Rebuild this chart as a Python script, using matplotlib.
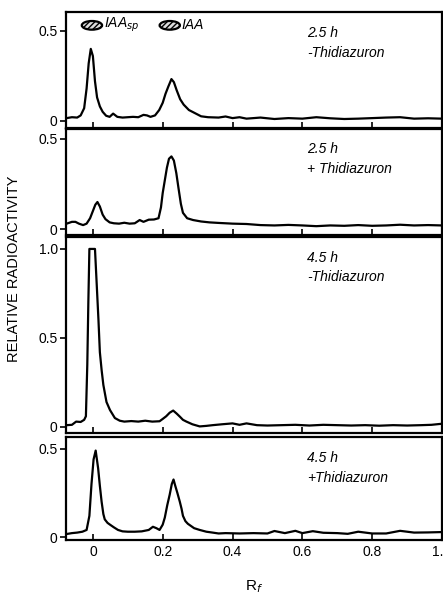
import matplotlib
matplotlib.use("Agg")
import matplotlib.pyplot as plt
from matplotlib.patches import Ellipse

# traces: (Rf, relative radioactivity)
trace_25_minus = [(-0.075, 0.015), (-0.06, 0.02), (-0.045, 0.018), (-0.035, 0.03), (-0.025, 0.07),
                  (-0.018, 0.18), (-0.012, 0.32), (-0.006, 0.40), (0.0, 0.36), (0.006, 0.22),
                  (0.012, 0.13), (0.02, 0.08), (0.028, 0.05), (0.038, 0.028), (0.048, 0.022),
                  (0.058, 0.04), (0.07, 0.022), (0.085, 0.018), (0.10, 0.02), (0.115, 0.022),
                  (0.13, 0.02), (0.145, 0.033), (0.155, 0.03), (0.165, 0.022), (0.178, 0.03),
                  (0.19, 0.06), (0.2, 0.1), (0.208, 0.15), (0.216, 0.19), (0.225, 0.232),
                  (0.232, 0.215), (0.24, 0.17), (0.25, 0.12), (0.26, 0.09), (0.275, 0.06),
                  (0.29, 0.045), (0.31, 0.025), (0.33, 0.02), (0.36, 0.018), (0.38, 0.024),
                  (0.4, 0.015), (0.42, 0.02), (0.44, 0.012), (0.48, 0.018), (0.52, 0.01),
                  (0.56, 0.015), (0.6, 0.012), (0.64, 0.02), (0.68, 0.014), (0.72, 0.01),
                  (0.76, 0.012), (0.8, 0.015), (0.84, 0.018), (0.88, 0.02), (0.92, 0.012),
                  (0.96, 0.014), (1.0, 0.012)]

trace_25_plus = [(-0.075, 0.03), (-0.06, 0.04), (-0.05, 0.04), (-0.04, 0.03), (-0.028, 0.022),
                 (-0.018, 0.03), (-0.008, 0.06), (0.0, 0.1), (0.007, 0.135), (0.013, 0.15),
                 (0.02, 0.125), (0.028, 0.08), (0.036, 0.055), (0.048, 0.037), (0.06, 0.032),
                 (0.075, 0.03), (0.09, 0.035), (0.105, 0.03), (0.12, 0.032), (0.134, 0.05),
                 (0.145, 0.04), (0.16, 0.052), (0.175, 0.053), (0.188, 0.06), (0.195, 0.12),
                 (0.2, 0.2), (0.206, 0.27), (0.212, 0.34), (0.218, 0.39), (0.225, 0.403),
                 (0.232, 0.38), (0.239, 0.31), (0.245, 0.23), (0.252, 0.14), (0.258, 0.09),
                 (0.27, 0.06), (0.287, 0.05), (0.31, 0.042), (0.334, 0.037), (0.36, 0.034),
                 (0.4, 0.03), (0.44, 0.028), (0.48, 0.022), (0.52, 0.02), (0.56, 0.023),
                 (0.6, 0.02), (0.64, 0.016), (0.68, 0.02), (0.72, 0.018), (0.76, 0.022),
                 (0.8, 0.018), (0.84, 0.02), (0.88, 0.024), (0.92, 0.02), (0.96, 0.022), (1.0, 0.02)]

trace_45_minus = [(-0.075, 0.01), (-0.06, 0.012), (-0.048, 0.03), (-0.035, 0.028), (-0.025, 0.04),
                  (-0.02, 0.06), (-0.016, 0.35), (-0.013, 0.7), (-0.01, 1.0), (0.006, 1.0),
                  (0.011, 0.8), (0.016, 0.6), (0.02, 0.42), (0.025, 0.32), (0.03, 0.236),
                  (0.039, 0.14), (0.049, 0.095), (0.063, 0.05), (0.077, 0.035), (0.09, 0.03),
                  (0.11, 0.033), (0.13, 0.03), (0.15, 0.035), (0.17, 0.03), (0.191, 0.032),
                  (0.2, 0.045), (0.21, 0.06), (0.22, 0.08), (0.23, 0.092), (0.24, 0.075),
                  (0.249, 0.058), (0.258, 0.04), (0.268, 0.03), (0.285, 0.015), (0.306, 0.003),
                  (0.325, 0.006), (0.343, 0.01), (0.37, 0.015), (0.4, 0.02), (0.42, 0.012),
                  (0.44, 0.02), (0.47, 0.01), (0.5, 0.008), (0.54, 0.01), (0.58, 0.012),
                  (0.62, 0.008), (0.66, 0.012), (0.7, 0.01), (0.74, 0.008), (0.78, 0.01),
                  (0.82, 0.007), (0.86, 0.01), (0.9, 0.008), (0.94, 0.01), (0.97, 0.012), (1.0, 0.018)]

trace_45_plus = [(-0.075, 0.017), (-0.06, 0.022), (-0.045, 0.025), (-0.03, 0.03), (-0.018, 0.04),
                 (-0.01, 0.12), (-0.004, 0.3), (0.002, 0.44), (0.008, 0.49), (0.015, 0.39),
                 (0.02, 0.29), (0.025, 0.2), (0.03, 0.13), (0.034, 0.1), (0.042, 0.08),
                 (0.049, 0.07), (0.06, 0.055), (0.072, 0.04), (0.085, 0.032), (0.1, 0.03),
                 (0.12, 0.03), (0.14, 0.032), (0.16, 0.04), (0.172, 0.058), (0.182, 0.05),
                 (0.191, 0.04), (0.2, 0.07), (0.206, 0.11), (0.213, 0.18), (0.22, 0.24),
                 (0.226, 0.3), (0.231, 0.326), (0.236, 0.29), (0.242, 0.25), (0.249, 0.2),
                 (0.254, 0.16), (0.258, 0.12), (0.265, 0.09), (0.272, 0.075), (0.29, 0.05),
                 (0.306, 0.04), (0.325, 0.03), (0.343, 0.025), (0.36, 0.02), (0.38, 0.022),
                 (0.42, 0.02), (0.46, 0.022), (0.5, 0.02), (0.52, 0.034), (0.55, 0.022),
                 (0.58, 0.035), (0.6, 0.022), (0.63, 0.033), (0.66, 0.024), (0.7, 0.022),
                 (0.73, 0.018), (0.76, 0.03), (0.8, 0.02), (0.84, 0.02), (0.88, 0.035),
                 (0.92, 0.025), (0.96, 0.026), (1.0, 0.028)]

traces = [trace_25_minus, trace_25_plus, trace_45_minus, trace_45_plus]
times = ["2.5 h", "2.5 h", "4.5 h", "4.5 h"]
treatments = ["-Thidiazuron", "+ Thidiazuron", "-Thidiazuron", "+Thidiazuron"]
y_ticks = [[0, 0.5], [0, 0.5], [0, 0.5, 1.0], [0, 0.5]]
y_ticklabels = [["0", "0.5"], ["0", "0.5"], ["0", "0.5", "1.0"], ["0", "0.5"]]
y_limits = [(-0.04, 0.605), (-0.033, 0.555), (-0.034, 1.067), (-0.017, 0.567)]
x_ticks = [0, 0.2, 0.4, 0.6, 0.8, 1.0]
x_ticklabels = ["0", "0.2", "0.4", "0.6", "0.8", "1.0"]

plt.rcParams['font.family'] = ['Liberation Sans', 'DejaVu Sans']

fig = plt.figure(figsize=(4.43, 5.98), dpi=100)

# panel boxes in pixels (top, bottom) from the scan
boxes = [(12, 128), (129, 235), (237, 433), (437, 540)]
left, width = 66 / 443, 376 / 443
text_pos = [(0.82, 0.647), (0.81, 0.623), (0.893, 0.796), (0.796, 0.602)]

axes = []
for i, (top, bot) in enumerate(boxes):
    ax = fig.add_axes([left, 1 - bot / 598, width, (bot - top) / 598])
    rf = [p[0] for p in traces[i]]
    val = [p[1] for p in traces[i]]
    ax.plot(rf, val, color='black', lw=1.6)
    ax.set_xlim(-0.077, 1.0)
    ax.set_ylim(*y_limits[i])
    ax.set_yticks(y_ticks[i])
    ax.set_yticklabels(y_ticklabels[i], fontsize=10)
    ax.set_xticks(x_ticks)
    ax.tick_params(axis='x', direction='in', length=4, width=1.2)
    ax.tick_params(axis='y', direction='out', length=4, width=1.2, pad=2)
    if i < 3:
        ax.set_xticklabels([])
    else:
        ax.set_xticklabels(x_ticklabels, fontsize=10)
    for s in ax.spines.values():
        s.set_linewidth(1.6)
    ty, ly = text_pos[i]
    ax.text(0.642, ty, times[i], transform=ax.transAxes, fontsize=10,
            style='italic', va='center', ha='left')
    ax.text(0.642, ly, treatments[i], transform=ax.transAxes, fontsize=10,
            style='italic', va='center', ha='left')
    axes.append(ax)

# standards marked in the top panel
ax0 = axes[0]
for cx, tx, name in [(0.069, 0.102, "IAA$_{sp}$"), (0.276, 0.308, "IAA")]:
    e = Ellipse((cx, 0.885), 0.054, 0.075, transform=ax0.transAxes,
                facecolor='#dddddd', edgecolor='black', lw=1.6, hatch='//////')
    ax0.add_patch(e)
    ax0.text(tx, 0.885, name, transform=ax0.transAxes, fontsize=10,
             style='italic', va='center', ha='left')

axes[3].set_xlabel("R$_f$", fontsize=11, labelpad=14)
fig.text(14 / 443, 1 - 269 / 598, "RELATIVE RADIOACTIVITY", rotation=90,
         fontsize=10.5, va='center', ha='center')

fig.savefig("out.png", dpi=100)
